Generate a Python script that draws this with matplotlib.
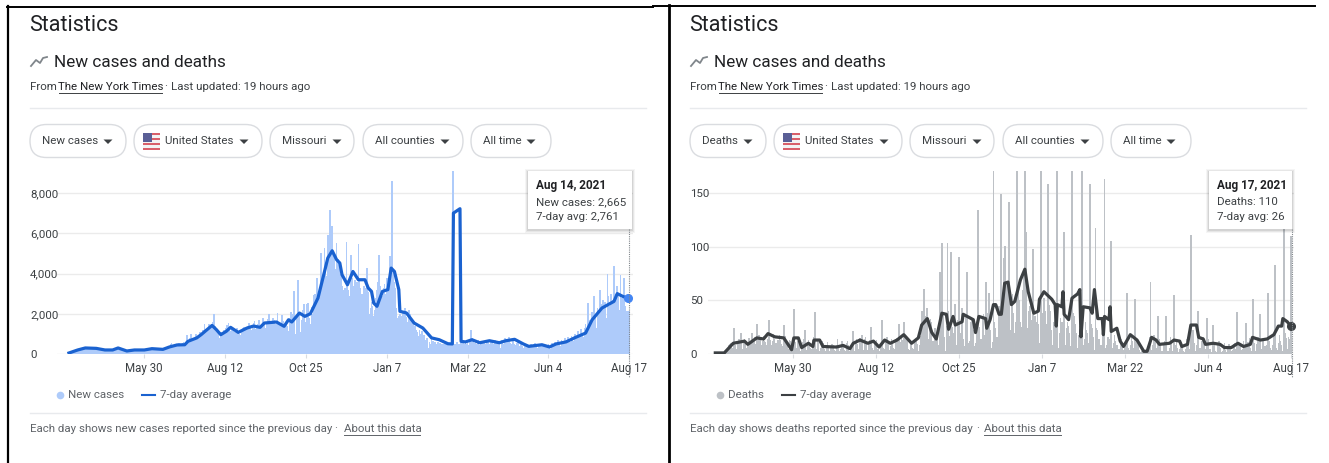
import numpy as np
import matplotlib
matplotlib.use("Agg")
import matplotlib.pyplot as plt
from matplotlib.patches import FancyBboxPatch, Rectangle, Polygon

plt.rcParams["font.family"] = ["Roboto", "DejaVu Sans"]

W, H = 1329, 463

# day numbers count from Mar 22 2020
tick_days = [69, 143, 217, 291, 365, 439, 513]
tick_labels = ["May 30", "Aug 12", "Oct 25", "Jan 7", "Mar 22", "Jun 4", "Aug 17"]
seg_starts = [0, 69, 143, 217, 291, 365, 439, 514]

cases_a = [10,20,30,50,70,90,120,150,180,220,240,270,300,260,280,310,290,280,260,300,310,280,250,270,290,260,240,250,220,260,230,210,240,190,220,200,230,210,180,200,230,260,240,280,310,330,300,260,230,190,210,170,130,150,170,140,190,160,170,200,180,210,170,190,160,220,180,200,210]
cases_b = [170,230,200,260,290,240,220,270,300,250,210,260,310,280,220,260,290,230,200,280,340,300,390,350,480,560,430,380,470,520,440,410,530,470,450,560,600,520,430,950,700,620,780,1000,720,680,780,980,900,740,960,1100,1020,920,1200,1480,1250,1100,1300,1500,1350,1220,1450,1600,2000,1400,1150,1250,1000,800,1100,1050,600,1200]
cases_c = [1000,1280,1450,1550,1300,1150,1350,1280,1050,1100,1200,1300,1050,1000,950,1150,1280,1350,1200,1050,1300,1400,1530,1300,1200,1450,1550,1640,1250,1350,1500,1700,1400,1250,1400,1780,1500,1300,1600,1750,1980,1500,1350,1600,1800,1700,1500,1650,2030,1550,1300,1500,1950,1650,1250,1450,1600,1400,1150,1800,2080,2000,1250,3150,300,1000,1800,3700,2000,1100,1700,2200,2480,1600]
cases_d = [1200,2500,2520,1800,1500,2350,2000,2950,2960,2100,3780,2800,2700,3200,5000,3800,4000,5270,4500,3900,5900,4800,7170,1300,6340,4900,4800,4200,5510,4700,4400,4000,3900,3400,3200,2800,3300,5570,3700,3200,2900,4930,3800,3400,3100,3700,3400,3600,5460,3700,3300,3000,2700,3400,3100,3300,4270,3100,2000,2300,2600,2400,1900,2200,2800,3200,3600,4900,3400,3100,2900,3300,3500,3000]
cases_e = [3800,3400,3300,4850,4200,4300,4200,3600,3300,2300,1800,1900,2000,1600,1900,2100,1700,2300,1850,1600,2200,2000,1500,1700,1500,1300,1400,1200,1100,900,1200,1000,1150,800,950,700,650,800,320,600,500,750,650,400,620,520,450,600,300,550,500,480,520,480,500,500,450,520,380,540,470,480,520,480,600,520,500,450,900,700,550,480,620,500]
cases_f = [560,430,620,1200,800,650,480,560,500,620,700,450,520,480,600,640,520,480,650,700,500,600,720,480,450,680,560,500,640,600,300,700,600,520,780,600,450,700,820,560,500,660,720,480,430,560,600,420,350,480,400,300,420,450,500,380,300,450,520,380,350,480,540,400,300,420,520,420,300,380,500,400,280,350]
cases_g = [520,300,250,560,450,350,600,520,450,680,600,400,720,640,520,780,700,480,850,720,600,900,750,640,1000,800,620,1150,950,700,1250,1000,850,1300,1500,1100,2530,1700,1400,1000,2100,1800,2860,1900,1300,2300,2100,3200,2500,1700,2700,2300,2600,1800,4000,2900,2400,3000,2700,2100,4350,3000,2500,3400,3000,2200,3940,2800,2665,3800,2400,2100,2120,2100,2120]
cases_spike_days = [296, 352]
cases_spike_vals = [8610, 9100]

cases_avg_days = [0,8,15,25,33,40,45,53,60,69,76,86,92,99,106,109,117,121,131,135,139,144,148,155,163,169,175,179,190,197,201,204,211,216,221,228,234,237,241,245,248,250,255,260,265,271,274,277,279,282,287,292,295,298,302,303,309,316,324,332,339,347,351,352,358,359,363,369,376,385,394,400,408,416,421,433,440,446,455,464,473,479,488,499,502,507,512]
cases_avg = [50,200,300,280,200,200,300,150,200,200,265,230,350,450,460,630,800,960,1420,1210,960,1125,1325,1075,1290,1390,1325,1540,1590,1375,1700,1590,2035,1870,2000,2780,4100,4770,5130,4690,4520,3940,3440,4100,3690,3690,3280,3110,2530,2370,3110,3200,4270,4100,3200,2120,2040,1540,1290,800,710,510,500,7000,7220,630,600,710,560,660,560,660,730,500,380,460,350,500,600,830,1040,1700,2285,2615,3000,2865,2761]

deaths_a = [0,1,0,1,1,0,1,0,1,3,5,6,8,9,10,6,10,12,8,5,9,14,11,8,5,12,14,10,6,9,15,12,8,4,14,16,9,7,13,18,13,8,12,17,12,11,8,14,20,13,8,12,19,14,10,6,13,18,13,9,7,16,17,12,8,5,13,12,3]
deaths_b = [14,18,11,6,12,15,10,3,7,11,14,8,4,9,13,10,6,5,13,16,9,5,12,11,3,6,12,10,5,3,8,11,7,3,6,9,8,4,3,8,14,7,3,5,12,9,4,3,10,12,8,3,5,7,6,3,11,14,9,5,15,13,8,4,14,16,10,4,9,13,11,6,4,10]
deaths_c = [12,13,5,3,9,15,12,6,5,12,16,11,4,7,14,10,6,5,14,15,9,4,11,17,13,6,7,16,12,5,4,12,11,6,5,13,14,9,3,8,17,17,28,13,20,35,28,14,32,33,30,12,10,24,20,14,8,22,19,24,38,16,3,26,22,40,17,6,25,20,46,12,8,32]
deaths_d = [30,8,20,42,14,7,35,38,28,10,12,30,32,22,7,10,30,36,25,10,14,35,37,18,8,12,38,33,22,6,11,36,30,24,16,8,45,55,60,48,24,42,75,66,40,14,22,52,56,38,20,30,58,65,50,30,25,60,75,58,35,24,40,45,50,32,6,12,35,30,40,28,10,24]
deaths_e = [32,38,52,40,28,7,38,46,40,22,8,30,38,36,20,6,20,34,30,28,16,8,24,30,26,20,7,16,38,35,28,20,6,18,26,32,18,8,14,30,22,20,10,6,28,24,16,4,10,24,22,14,6,8,26,18,16,6,8,16,14,10,4,6,10,18,12,8,3,5,10,14,8,4]
deaths_f = [6,10,14,6,4,8,16,12,6,3,5,14,8,4,2,3,6,3,2,1,3,8,16,12,4,8,18,12,6,3,7,14,10,3,3,8,12,8,3,3,6,16,10,3,4,8,14,6,2,5,8,8,3,2,5,14,16,9,5,3,16,22,10,3,8,18,12,6,2,12,16,8,5,3]
deaths_g = [10,14,5,2,6,12,10,3,2,8,12,6,2,3,8,10,4,2,5,9,7,3,4,9,10,5,2,8,10,8,4,5,12,6,2,6,11,15,6,3,8,14,10,3,9,16,12,4,5,12,14,7,3,8,16,12,6,4,8,20,16,6,4,10,18,12,8,3,22,20,15,5,16,14,20]
deaths_spike_days = [17,23,33,37,48,61,70,80,89,123,131,139,149,164,168,184,186,189,200,202,207,210,214,217,220,224,234,241,244,248,255,257,258,262,269,276,277,283,290,297,305,311,318,327,334,339,347,353,367,374,388,395,402,409,424,430,438,444,465,473,479,486,493,499,507,513]
deaths_spike_vals = [24,20,20,28,32,27,42,22,39,21,18,25,32,28,30,40,61,43,76,103,103,95,47,90,43,76,134,67,57,171,149,89,101,142,171,171,114,98,171,158,171,114,171,171,158,117,163,105,57,51,67,35,35,55,111,40,34,27,39,29,51,37,57,83,118,110]

deaths_avg_days = [0,8,16,26,29,37,43,47,53,61,68,70,74,77,83,87,88,93,96,108,114,120,123,129,136,141,146,151,156,162,168,175,181,184,189,193,197,202,206,208,212,214,220,221,230,232,235,241,242,245,248,250,253,255,258,261,264,267,272,276,279,284,288,289,293,300,303,304,305,309,310,311,315,318,323,325,326,328,334,336,338,341,345,346,347,351,352,353,358,361,364,370,376,382,385,389,393,396,405,409,414,416,421,424,429,431,435,437,444,450,454,460,466,471,477,479,486,492,498,502,505,506,510,513]
deaths_avg = [1,1,10,12,9,15,14,19,16,15,4,15,15,6,10,7,13,13,7,6.5,8,5,10,13,10,12,6.5,13,10,13,18,10,15,27,33,20,14,38,37,23,35,27,30,37,32,20,35,33,24,32,46,46,37,37,66,67,46,49,69,79,58,38,40,51,58,51,46,26,46,44,58,37,32,52,56,60,16,44,43,38,60,33,33,18,35,32,44,21,24,12,7,18,13,2.5,2.5,15.5,13,9,10,13,12,7,9,27,27,15.5,14,9,10,9,6,6,10,7,9,15.5,13,14,18,26,26,33,30,26]

cases_ticks = [0, 2000, 4000, 6000, 8000]
deaths_ticks = [0, 50, 100, 150]
pill_names_cases = ["New cases", "United States", "Missouri", "All counties", "All time"]
pill_names_deaths = ["Deaths", "United States", "Missouri", "All counties", "All time"]

TXT = "#202124"
TXT2 = "#3c4043"
TXT3 = "#5f6368"
GRID = "#ebebeb"
SMALL = 8.25

fig = plt.figure(figsize=(W / 100, H / 100), dpi=100)
fig.patch.set_facecolor("white")


def px_axes(left, top, right, bottom, z):
    a = fig.add_axes([left / W, 1 - bottom / H, (right - left) / W, (bottom - top) / H], zorder=z)
    a.patch.set_alpha(0)
    return a


def daily(segs):
    xs = []
    for i, s in enumerate(segs):
        xs.append(np.linspace(seg_starts[i], seg_starts[i + 1], len(s), endpoint=False))
    return np.concatenate(xs), np.concatenate(segs)


def chart(left, right, px_at_69, px_per_day, ymax, yticks, segs, sp_days, sp_vals, avg_days, avg, bar_col, line_col, dot_col, dot_day, dot_val, bar_w, spike_w):
    ax = px_axes(left, 171, right, 354, 2)
    ax.set_xlim(69 + (left - px_at_69) / px_per_day, 69 + (right - px_at_69) / px_per_day)
    ax.set_ylim(0, ymax)
    for s in ax.spines.values():
        s.set_visible(False)
    for t in yticks:
        ax.axhline(t, color=GRID, lw=1, zorder=1)
    x, y = daily(segs)
    ax.bar(x, y, width=bar_w, color=bar_col, linewidth=0, zorder=2)
    ax.bar(sp_days, sp_vals, width=spike_w, color=bar_col, linewidth=0, zorder=2)
    ax.plot(avg_days, avg, color=line_col, lw=2.3, zorder=3, solid_joinstyle="round")
    ax.plot([dot_day], [dot_val], "o", ms=5.5, color=dot_col, zorder=4, clip_on=False)
    ax.set_yticks(yticks)
    ax.set_yticklabels([])
    ax.set_xticks(tick_days)
    ax.set_xticklabels(tick_labels, fontsize=8.3, color=TXT2)
    ax.tick_params(axis="x", length=3, width=0.8, color="#dadce0", pad=3)
    ax.tick_params(axis="y", length=0)
    return ax


ax1 = chart(57, 633, 144.3, 1.0923, 183 / (161 / 8000), cases_ticks,
            [cases_a, cases_b, cases_c, cases_d, cases_e, cases_f, cases_g],
            cases_spike_days, cases_spike_vals, cases_avg_days, cases_avg,
            "#aecbfa", "#1a62d0", "#4285f4", 512, 2761, 1.6, 1.9)
ax2 = chart(708, 1294, 792.7, 1.1216, 183 / (161 / 150), deaths_ticks,
            [deaths_a, deaths_b, deaths_c, deaths_d, deaths_e, deaths_f, deaths_g],
            deaths_spike_days, deaths_spike_vals, deaths_avg_days, deaths_avg,
            "#bdc1c6", "#3c4043", "#3c4043", 513, 26, 1.2, 1.7)

ui = px_axes(0, 0, W, H, 5)
ui.set_xlim(0, W)
ui.set_ylim(H, 0)
ui.axis("off")

# screenshot borders
ui.plot([7, 653], [6.5, 6.5], color="black", lw=1.4)
ui.plot([653, 1315], [5.5, 5.5], color="black", lw=1.4)
ui.plot([7.5, 7.5], [6, H], color="black", lw=1.6)
ui.plot([669, 669], [5, H], color="black", lw=2)


def text(x, y, s, size, color=TXT2, **kw):
    return ui.text(x, y, s, fontsize=size, color=color, va="center", **kw)


def panel(dx, pills, pill_xs, flag_x, legend_name, legend_xs, swatch, line_col, foot, foot_xs, rule_end, ylabels, label_ys):
    text(29 + dx, 25.5, "Statistics", 15.5, TXT)
    ui.plot(np.array([31, 36, 40, 43, 47]) + dx, [66, 60, 63, 58, 57], color="#80868b", lw=1.3)
    text(54 + dx, 62.5, "New cases and deaths", 12.3, TXT)
    text(30 + dx, 86.5, "From", SMALL)
    text(58.5 + dx, 86.5, "The New York Times", SMALL, TXT)
    ui.plot([58.5 + dx, 162 + dx], [92.5, 92.5], color=TXT2, lw=0.7)
    text(164.5 + dx, 86.5, "·", SMALL)
    text(171 + dx, 86.5, "Last updated: 19 hours ago", SMALL)
    ui.plot([30 + dx, rule_end], [108, 108], color="#e8eaed", lw=1)
    ui.plot([30 + dx, rule_end], [413, 413], color="#e8eaed", lw=1)

    for name, (x0, x1, tx, ax_) in zip(pills, pill_xs):
        ui.add_patch(FancyBboxPatch((x0 + dx, 124.5), x1 - x0, 33, boxstyle="round,pad=0,rounding_size=16.5",
                                    fc="white", ec="#dadce0", lw=1))
        text(tx + dx, 141.5, name, SMALL)
        ui.add_patch(Polygon([(ax_ - 4.5 + dx, 139.5), (ax_ + 4.5 + dx, 139.5), (ax_ + dx, 144)], fc=TXT2, ec="none"))

    # flag
    fx = flag_x + dx
    for i in range(7):
        ui.add_patch(Rectangle((fx, 132.5 + i * 2.5), 17, 2.5, fc="#d9606a" if i % 2 == 0 else "#f3f3f3", ec="none"))
    ui.add_patch(Rectangle((fx, 132.5), 8.5, 9, fc="#5a5f96", ec="none"))

    for lab, yy in zip(ylabels, label_ys):
        text(30 + dx, yy + 1, lab, SMALL)

    ui.plot(legend_xs[0], 395, "o", ms=5.5, color=swatch, mew=0)
    text(legend_xs[1], 395.5, legend_name, SMALL, TXT3)
    ui.plot(legend_xs[2], [395, 395], color=line_col, lw=1.5)
    text(legend_xs[3], 395.5, "7-day average", SMALL, TXT3)

    text(30 + dx, 429, foot, SMALL, TXT3)
    text(foot_xs[0], 428, "·", SMALL, TXT3)
    text(foot_xs[1], 429, "About this data", SMALL, TXT3)
    ui.plot([foot_xs[1], foot_xs[2]], [434.5, 434.5], color=TXT3, lw=0.7)


pill_xs = [(30, 126, 42, 108), (134, 262, 165, 244), (270, 354, 282, 337), (363, 463, 375, 445), (471, 551, 483, 531)]
pill_xs2 = [(30, 106, 42, 88), (114, 242, 145, 224), (250, 334, 262, 317), (343, 443, 355, 425), (451, 531, 463, 511)]

cases_lab = ["8,000", "6,000", "4,000", "2,000", "0"]
deaths_lab = ["150", "100", "50", "0"]
y_cases = [193, 233.5, 273.5, 314, 354]
y_deaths = [193, 246.7, 300, 354]

panel(0, pill_names_cases, pill_xs, 143, "New cases", (60, 68, [142, 155], 160), "#aecbfa", "#1a62d0",
      "Each day shows new cases reported since the previous day", (334, 344, 420), 646, cases_lab, y_cases)
panel(660, pill_names_deaths, pill_xs2, 123, "Deaths", (719.5, 728, [782, 795], 800), "#bdc1c6", "#3c4043",
      "Each day shows deaths reported since the previous day", (976, 984, 1061), 1306, deaths_lab, y_deaths)


def tooltip(x0, x1, tx, lines, hover_x):
    ui.plot([hover_x, hover_x], [229, 377], color="#80868b", lw=0.8, ls=(0, (1, 1)))
    for off, alpha in [(3, 0.04), (2, 0.06), (1, 0.08)]:
        ui.add_patch(Rectangle((x0 - off, 171 - off + 1), x1 - x0 + 2 * off, 58 + 2 * off, fc="black", alpha=alpha, ec="none"))
    ui.add_patch(Rectangle((x0, 171), x1 - x0, 58, fc="white", ec="none"))
    text(tx, 185.5, lines[0], 8.5, TXT, fontweight="bold")
    text(tx, 202, lines[1], SMALL, TXT2)
    text(tx, 217.5, lines[2], SMALL, TXT2)


tooltip(528, 632, 536, ["Aug 14, 2021", "New cases: 2,665", "7-day avg: 2,761"], 629)
tooltip(1209, 1292, 1217, ["Aug 17, 2021", "Deaths: 110", "7-day avg: 26"], 1292)

fig.savefig("out.png", dpi=100)
